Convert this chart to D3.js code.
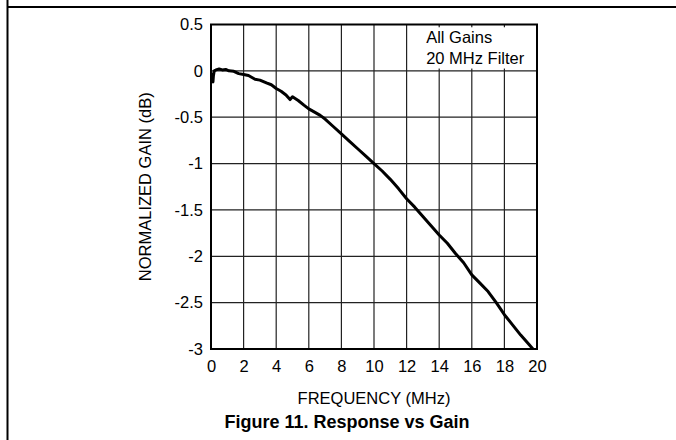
<!DOCTYPE html>
<html><head><meta charset="utf-8">
<script src="https://cdn.jsdelivr.net/npm/d3@7"></script>
<style>
html,body{margin:0;padding:0;background:#fff;}
svg{display:block;font-family:"Liberation Sans",Arial,Helvetica,sans-serif;}
</style></head>
<body><svg id="c" width="676" height="440"></svg>
<script>
const freq = [0.1,0.12,0.15,0.2,0.3,0.5,0.7,0.9,1.1,1.4,1.7,2.0,2.3,2.7,3.0,3.4,3.7,4.0,4.3,4.6,4.85,5.0,5.35,5.7,6.0,6.3,6.7,7.0,7.5,8.0,8.5,9.0,9.5,10.0,10.5,11.0,11.5,12.0,12.5,13.0,13.5,14.0,14.5,15.0,15.5,16.0,16.5,17.0,17.5,18.0,18.5,19.0,19.5,19.75];
const gain = [-0.02,-0.12,-0.05,0.0,0.01,0.02,0.01,0.015,0.0,-0.005,-0.03,-0.04,-0.05,-0.09,-0.1,-0.13,-0.15,-0.19,-0.22,-0.26,-0.31,-0.28,-0.32,-0.37,-0.41,-0.44,-0.48,-0.52,-0.6,-0.68,-0.76,-0.84,-0.92,-1.0,-1.08,-1.17,-1.27,-1.38,-1.47,-1.57,-1.67,-1.77,-1.86,-1.97,-2.07,-2.2,-2.29,-2.38,-2.5,-2.63,-2.74,-2.85,-2.95,-3.0];
const xTicks = [0,2,4,6,8,10,12,14,16,18,20];
const yTicks = [0.5,0,-0.5,-1,-1.5,-2,-2.5,-3];
const legendLines = ["All Gains","20 MHz Filter"];
const xTitle = "FREQUENCY (MHz)";
const yTitle = "NORMALIZED GAIN (dB)";
const figTitle = "Figure 11. Response vs Gain";

const svg = d3.select("#c");
const L=211, R=537, T=24.5, B=349;
const FS = 16.5;
const x = d3.scaleLinear().domain([0,20]).range([L,R]);
const y = d3.scaleLinear().domain([-3,0.5]).range([B,T]);

// frame lines
svg.append("line").attr("x1",7.5).attr("x2",7.5).attr("y1",0).attr("y2",440).attr("stroke","#000").attr("stroke-width",2);
svg.append("line").attr("x1",7).attr("x2",676).attr("y1",7).attr("y2",7).attr("stroke","#000").attr("stroke-width",2);

// grid
const g = svg.append("g");
g.selectAll(".vx").data(xTicks).join("line")
 .attr("x1",d=>x(d)).attr("x2",d=>x(d)).attr("y1",T).attr("y2",B)
 .attr("stroke","#222").attr("stroke-width",1.2);
g.selectAll(".hy").data(yTicks).join("line")
 .attr("x1",L).attr("x2",R).attr("y1",d=>y(d)).attr("y2",d=>y(d))
 .attr("stroke","#222").attr("stroke-width",1.2);

// legend white box
svg.append("rect").attr("x",x(12.6)).attr("y",y(0.47)).attr("width",R-x(12.6)).attr("height",y(0.025)-y(0.47)).attr("fill","#fff");
svg.append("g").selectAll("text").data(legendLines).join("text")
 .attr("x",x(13.2)).attr("y",(d,i)=>43+i*21)
 .attr("font-size",FS).attr("fill","#000").text(d=>d);

// border
svg.append("rect").attr("x",L).attr("y",T).attr("width",R-L).attr("height",B-T)
 .attr("fill","none").attr("stroke","#000").attr("stroke-width",2);

// axes labels
const xa = d3.axisBottom(x).tickValues(xTicks).tickSize(0).tickPadding(11).tickFormat(d3.format("d"));
const xg = svg.append("g").attr("transform",`translate(0,${B})`).call(xa);
xg.select(".domain").remove();
xg.selectAll("text").attr("font-size",FS).attr("fill","#000").attr("font-family","Liberation Sans, Arial, sans-serif");
const ya = d3.axisLeft(y).tickValues(yTicks).tickSize(0).tickPadding(8).tickFormat(d=>String(d));
const yg = svg.append("g").attr("transform",`translate(${L},0)`).call(ya);
yg.select(".domain").remove();
yg.selectAll("text").attr("font-size",FS).attr("fill","#000").attr("font-family","Liberation Sans, Arial, sans-serif");

// curve
const line = d3.line().x((d,i)=>x(freq[i])).y((d,i)=>y(gain[i]));
svg.append("path").datum(gain).attr("d",line).attr("fill","none").attr("stroke","#000").attr("stroke-width",3).attr("stroke-linejoin","round");

// titles
svg.append("text").attr("x",(L+R)/2).attr("y",404).attr("text-anchor","middle").attr("font-size",FS).text(xTitle);
svg.append("text").attr("transform",`translate(151,${(T+B)/2}) rotate(-90)`).attr("text-anchor","middle").attr("font-size",FS).text(yTitle);
svg.append("text").attr("x",347).attr("y",428).attr("text-anchor","middle").attr("font-size",18).attr("font-weight","bold").text(figTitle);
</script></body></html>
